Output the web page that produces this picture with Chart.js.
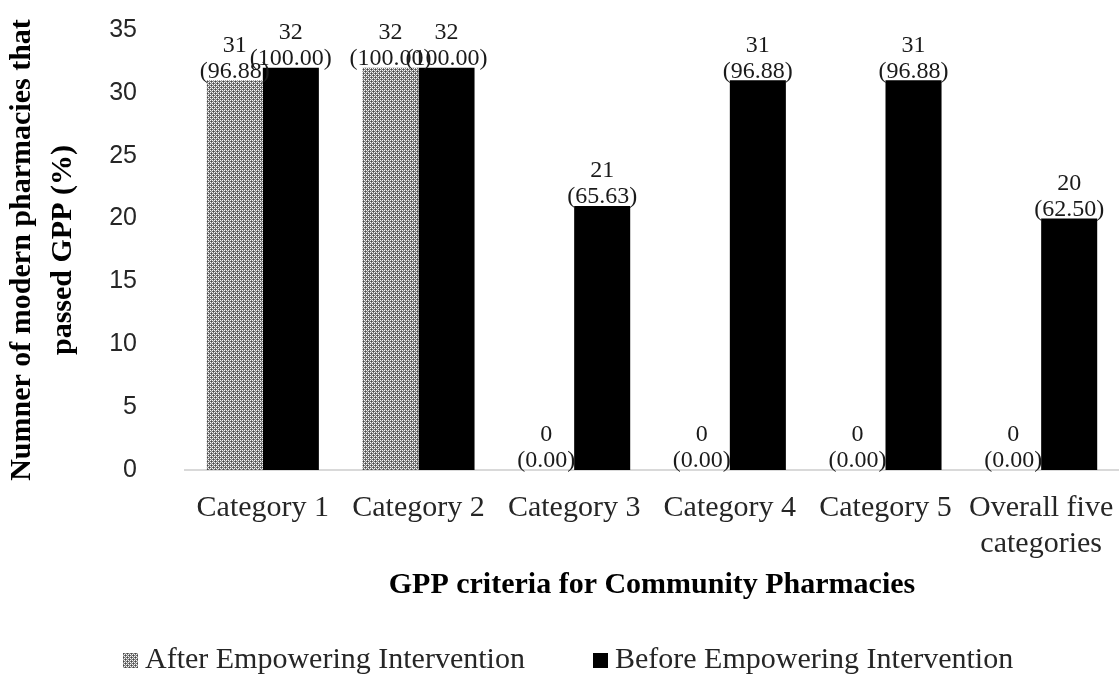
<!DOCTYPE html>
<html>
<head>
<meta charset="utf-8">
<script src="https://cdn.jsdelivr.net/npm/chart.js@4"></script>
<style>
  body { margin: 0; background: #fff; }
  canvas { display: block; }
</style>
</head>
<body>
<canvas id="gppChart" width="1119" height="675"></canvas>
<script>
// ================= DATA =================
const categories = [
  "Category 1", "Category 2", "Category 3",
  "Category 4", "Category 5", ["Overall five", "categories"]
];
const afterValues = [31, 32, 0, 0, 0, 0];
const beforeValues = [32, 32, 21, 31, 31, 20];
const afterPct = ["96.88", "100.00", "0.00", "0.00", "0.00", "0.00"];
const beforePct = ["100.00", "100.00", "65.63", "96.88", "96.88", "62.50"];
const seriesNames = ["After Empowering Intervention", "Before Empowering Intervention"];
const yTicks = [0, 5, 10, 15, 20, 25, 30, 35];

const SERIF = "'Liberation Serif', 'Times New Roman', serif";
const SANS = "'Liberation Sans', Arial, sans-serif";

// ================= PATTERN FILL =================
const canvas = document.getElementById("gppChart");
const ctx = canvas.getContext("2d");

function makePattern() {
  const pc = document.createElement("canvas");
  pc.width = 4;
  pc.height = 4;
  const p = pc.getContext("2d");
  const tones = [
    [250, 120, 250, 120],
    [120, 190, 120, 70],
    [250, 120, 250, 120],
    [120, 70, 120, 190]
  ];
  tones.forEach((row, y) => {
    row.forEach((v, x) => {
      p.fillStyle = `rgb(${v},${v},${v})`;
      p.fillRect(x, y, 1, 1);
    });
  });
  return ctx.createPattern(pc, "repeat");
}
const dotted = makePattern();

// ================= PLUGINS =================
const valueLabels = {
  id: "valueLabels",
  afterDatasetsDraw(chart) {
    const c = chart.ctx;
    const pcts = [afterPct, beforePct];
    c.save();
    c.font = "24px " + SERIF;
    c.fillStyle = "#1a1a1a";
    c.textAlign = "center";
    c.textBaseline = "middle";
    chart.data.datasets.forEach((ds, di) => {
      chart.getDatasetMeta(di).data.forEach((bar, i) => {
        c.fillText(String(ds.data[i]), bar.x, bar.y - 35);
        c.fillText("(" + pcts[di][i] + ")", bar.x, bar.y - 9);
      });
    });
    c.restore();
  }
};

const bottomLegend = {
  id: "bottomLegend",
  afterDraw(chart) {
    const c = chart.ctx;
    const xs = [123, 593];
    const y = 660;
    c.save();
    c.font = "30px " + SERIF;
    c.textBaseline = "middle";
    c.textAlign = "left";
    chart.data.datasets.forEach((ds, i) => {
      c.fillStyle = ds.backgroundColor;
      c.fillRect(xs[i], y - 7, 15, 15);
      c.fillStyle = "#262626";
      c.fillText(ds.label, xs[i] + 22, y);
    });
    c.restore();
  }
};

// ================= CHART =================
const chart = new Chart(ctx, {
  type: "bar",
  data: {
    labels: categories,
    datasets: [
      {
        label: seriesNames[0],
        data: afterValues,
        backgroundColor: dotted,
        borderWidth: 0,
        categoryPercentage: 0.72,
        barPercentage: 1.0
      },
      {
        label: seriesNames[1],
        data: beforeValues,
        backgroundColor: "#000000",
        borderWidth: 0,
        categoryPercentage: 0.72,
        barPercentage: 1.0
      }
    ]
  },
  options: {
    responsive: false,
    animation: false,
    layout: { padding: { top: 30, right: 0, bottom: 70, left: 0 } },
    plugins: {
      legend: { display: false },
      tooltip: { enabled: false }
    },
    scales: {
      x: {
        // tick marks are hidden with the grid; tickLength only spaces the labels
        grid: { display: false, drawTicks: true, tickLength: 20 },
        border: { display: true, color: "#d9d9d9", width: 2 },
        ticks: {
          color: "#262626",
          font: { family: SERIF, size: 30, lineHeight: 1.2 },
          padding: 0,
          maxRotation: 0,
          autoSkip: false
        },
        title: {
          display: true,
          text: "GPP criteria for Community Pharmacies",
          color: "#000",
          font: { family: SERIF, size: 30, weight: "bold", lineHeight: 1.2 },
          padding: { top: 0, bottom: 2 }
        },
        afterFit(scale) { scale.height = 135; }
      },
      y: {
        min: 0,
        max: 35,
        afterBuildTicks(scale) { scale.ticks = yTicks.map(v => ({ value: v })); },
        grid: { display: false, drawTicks: true, tickLength: 48 },
        border: { display: false },
        ticks: {
          color: "#262626",
          font: { family: SANS, size: 25 },
          padding: 0
        },
        title: {
          display: true,
          text: ["Numner of modern pharmacies that", "passed GPP (%)"],
          color: "#000",
          font: { family: SERIF, size: 30, weight: "bold", lineHeight: 1.367 },
          padding: { top: 1.5, bottom: 0 }
        },
        afterFit(scale) { scale.width = 185; }
      }
    }
  },
  plugins: [valueLabels, bottomLegend]
});
</script>
</body>
</html>
